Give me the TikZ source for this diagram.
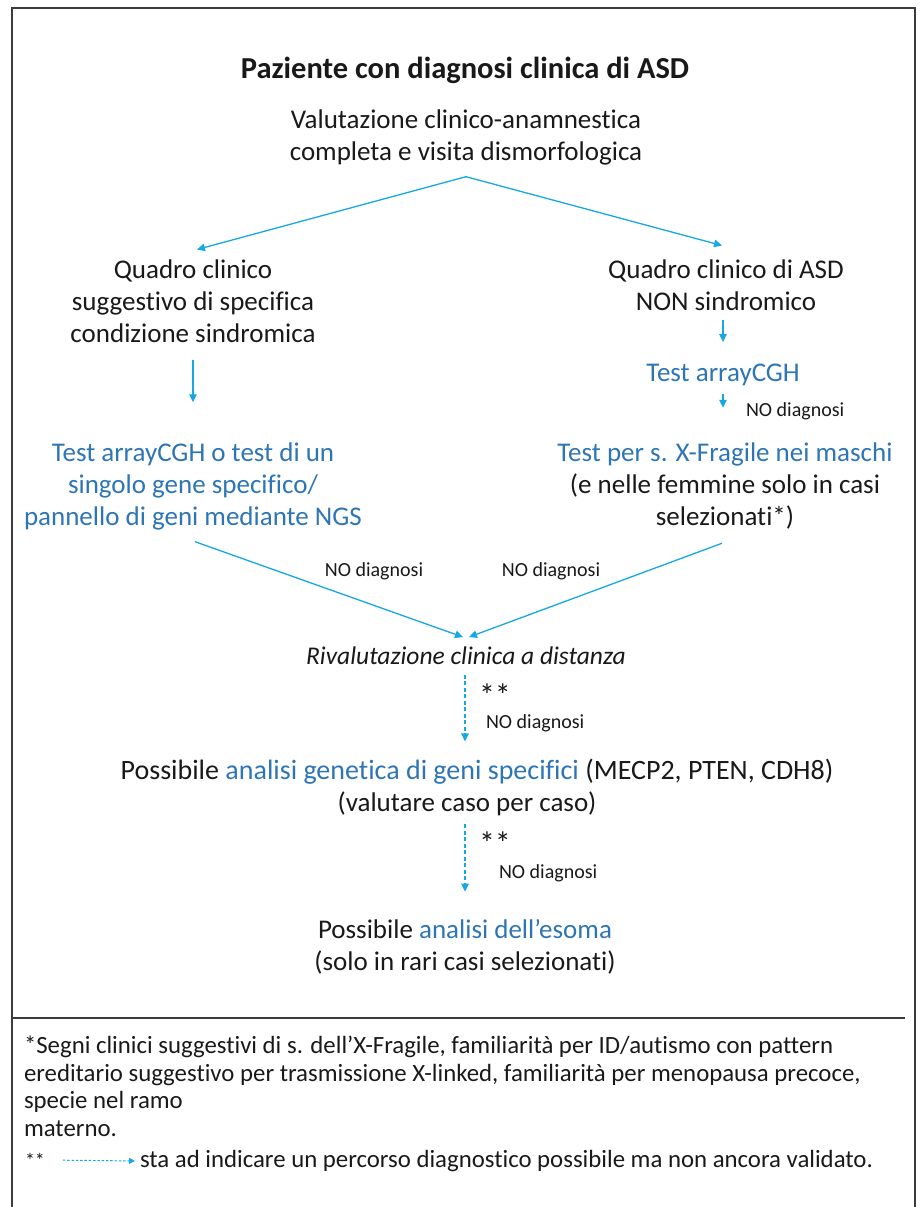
\documentclass[tikz,border=0pt]{standalone}
\usepackage{fontspec}
\setmainfont[Ligatures=NoCommon]{Carlito}
\usetikzlibrary{arrows.meta}
\definecolor{flowline}{RGB}{22,168,226}
\definecolor{testblue}{RGB}{46,117,182}
\definecolor{frameline}{RGB}{60,60,60}
\begin{document}
\begin{tikzpicture}[x=1pt,y=-1pt,
  every node/.style={inner sep=0pt, outer sep=0pt},
  maintext/.style={font=\fontsize{27}{32}\selectfont, align=center, text=black!90},
  bluetext/.style={maintext, text=testblue},
  notelabel/.style={font=\fontsize{20}{22}\selectfont, text=black!90},
  starmark/.style={font=\fontsize{32}{32}\selectfont, text=black!90},
  flow/.style={draw=flowline, line width=1.3pt, -{Triangle[length=8pt,width=7.5pt]}},
  flowdash/.style={flow, dash pattern=on 4pt off 2.5pt},
  footnotetext/.style={font=\fontsize{24.8}{27.5}\selectfont, align=left, text=black!90}]
\useasboundingbox (0,0) rectangle (923,1207);
% frame, open at the bottom edge
\draw[frameline, line width=1.3pt] (12,1207) -- (12,8) -- (915,8) -- (915,1207);
\draw[frameline, line width=1.3pt] (12,1018) -- (905,1018);

% title and first step
\node[maintext, font=\fontsize{30.5}{32}\selectfont\bfseries] (title) at (465,70) {Paziente con diagnosi clinica di ASD};
\node[maintext] (eval) at (466,137) {Valutazione clinico-anamnestica\\completa e visita dismorfologica};

% left branch
\node[maintext] (synd) at (193,301) {Quadro clinico\\suggestivo di specifica\\condizione sindromica};
\node[bluetext] (synd test) at (193,486) {Test arrayCGH o test di un\\singolo gene specifico/\\pannello di geni mediante NGS};

% right branch
\node[maintext] (nonsynd) at (726,285) {Quadro clinico di ASD\\NON sindromico};
\node[bluetext] (cgh) at (723,375) {Test arrayCGH};
\node[maintext] (fragx) at (725,486) {\textcolor{testblue}{Test per s. X-Fragile nei maschi}\\(e nelle femmine solo in casi\\selezionati*)};

% common path
\node[maintext, font=\fontsize{25.5}{32}\selectfont\itshape] (reval) at (466,656) {Rivalutazione clinica a distanza};
\node[maintext, font=\fontsize{28}{32}\selectfont] (genes) at (477,772) {Possibile \textcolor{testblue}{analisi genetica di geni specifici} (MECP2, PTEN, CDH8)};
\node[maintext] (genes note) at (467,804) {(valutare caso per caso)};
\node[maintext] (exome) at (465,947) {Possibile \textcolor{testblue}{analisi dell’esoma}\\(solo in rari casi selezionati)};

% connectors
\coordinate (fork) at ([yshift=-12pt]eval.south);
\draw[flow] (fork) -- ([xshift=4pt,yshift=10pt]synd.north);
\draw[flow] (fork) -- ([xshift=-4pt,yshift=14pt]nonsynd.north);
\draw[flow, shorten <=18pt, shorten >=40pt] (synd.south) -- (synd test.north);
\draw[flow, shorten <=10pt, shorten >=22pt] ([xshift=-3pt]nonsynd.south) -- (cgh.north);
\draw[flow, shorten <=8pt, shorten >=35pt] (cgh.south) -- ([xshift=-2pt]fragx.north);
\node[notelabel, anchor=west] (lab cgh) at (746,411) {NO diagnosi};

\draw[flow] ([xshift=2pt,yshift=-12pt]synd test.south) -- ([xshift=-3pt,yshift=10pt]reval.north);
\draw[flow] ([xshift=-3pt,yshift=-14pt]fragx.south) -- ([xshift=3pt,yshift=10pt]reval.north);
\node[notelabel] (lab left) at (374,571) {NO diagnosi};
\node[notelabel] (lab right) at (551,571) {NO diagnosi};

\draw[flowdash, shorten <=10pt, shorten >=18pt] ([xshift=-1pt]reval.south) -- ([xshift=-12pt]genes.north);
\node[starmark, anchor=west] (star a) at (479,695) {**};
\node[notelabel, anchor=west] (lab a) at (486,723) {NO diagnosi};

\draw[flowdash, shorten <=8pt, shorten >=28pt] ([xshift=-2pt]genes note.south) -- (exome.north);
\node[starmark, anchor=west] (star b) at (479,843) {**};
\node[notelabel, anchor=west] (lab b) at (499,873) {NO diagnosi};

% footnotes
\node[footnotetext, anchor=north west] (note one) at (24,1036) {*Segni clinici suggestivi di s. dell’X-Fragile, familiarità per ID/autismo con pattern\\ereditario suggestivo per trasmissione X-linked, familiarità per menopausa precoce,\\specie nel ramo\\materno.};
\node[footnotetext, font=\fontsize{20}{20}\selectfont, anchor=west] (note stars) at (25,1160) {**};
\node[footnotetext, anchor=west] (note two) at (140,1161) {sta ad indicare un percorso diagnostico possibile ma non ancora validato.};
\draw[flowdash, line width=1pt, dash pattern=on 2.5pt off 1.8pt, -{Triangle[length=6pt,width=6pt]}, shorten <=18pt, shorten >=5pt] (note stars.east) -- (note two.west);
\end{tikzpicture}
\end{document}
